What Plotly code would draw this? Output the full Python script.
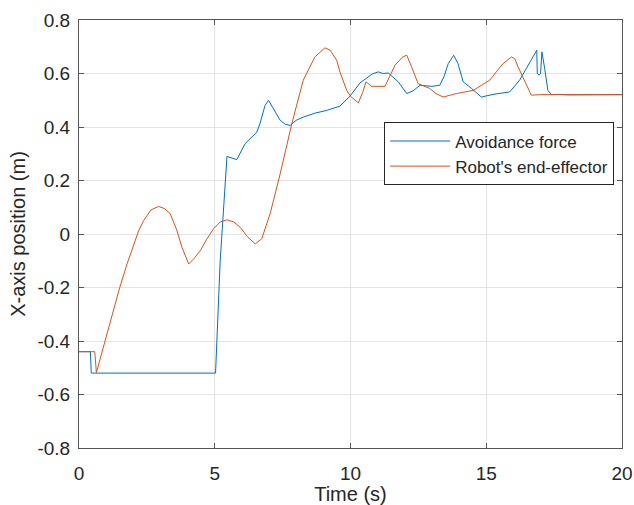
import plotly.graph_objects as go

# Avoidance force (blue)
t_avoid = [0, 0.42, 0.45, 5.03, 5.2, 5.45, 5.6, 5.81, 6.12, 6.3, 6.55, 6.67, 6.85, 6.98, 7.15, 7.41,
           7.6, 7.78, 8.0, 8.26, 8.7, 9.12, 9.61, 9.98, 10.35, 10.6, 10.8, 11.02, 11.2, 11.39, 11.76,
           12.07, 12.3, 12.56, 13.0, 13.29, 13.45, 13.6, 13.8, 13.96, 14.15, 14.46, 14.82, 15.25,
           15.86, 16.23, 16.66, 16.82, 16.86, 16.88, 16.95, 17.0, 17.05, 17.15, 17.27, 17.4, 17.7,
           18.0, 20]
x_avoid = [-0.44, -0.44, -0.52, -0.52, -0.1, 0.29, 0.285, 0.278, 0.338, 0.355, 0.381, 0.414, 0.48,
           0.5, 0.47, 0.425, 0.41, 0.406, 0.425, 0.437, 0.452, 0.462, 0.478, 0.515, 0.565, 0.585,
           0.598, 0.606, 0.6, 0.602, 0.569, 0.525, 0.535, 0.556, 0.552, 0.556, 0.59, 0.637, 0.668,
           0.637, 0.569, 0.544, 0.512, 0.522, 0.531, 0.575, 0.65, 0.675, 0.687, 0.6, 0.594, 0.6,
           0.681, 0.62, 0.537, 0.521, 0.522, 0.52, 0.521]

# Robot's end-effector (orange)
t_robot = [0, 0.58, 0.64, 0.9, 1.16, 1.5, 1.77, 1.96, 2.2, 2.38, 2.65, 2.93, 3.15, 3.36, 3.6, 3.79,
           4.04, 4.25, 4.47, 4.7, 4.96, 5.2, 5.45, 5.7, 5.94, 6.2, 6.49, 6.73, 7.04, 7.41, 7.84,
           8.26, 8.69, 9.06, 9.25, 9.49, 9.61, 9.86, 10.0, 10.29, 10.45, 10.57, 10.78, 11.27, 11.45,
           11.64, 11.9, 12.07, 12.25, 12.49, 12.92, 13.15, 13.41, 13.9, 14.52, 15.13, 15.4, 15.62,
           15.93, 16.05, 16.17, 16.48, 16.66, 17.0, 20]
x_robot = [-0.44, -0.44, -0.518, -0.42, -0.324, -0.2, -0.112, -0.055, 0.013, 0.05, 0.09, 0.103,
           0.095, 0.076, 0.015, -0.049, -0.112, -0.09, -0.062, -0.02, 0.02, 0.045, 0.053, 0.045,
           0.025, -0.01, -0.037, -0.018, 0.076, 0.225, 0.413, 0.575, 0.662, 0.696, 0.687, 0.65,
           0.606, 0.537, 0.515, 0.49, 0.53, 0.569, 0.552, 0.552, 0.59, 0.631, 0.66, 0.669, 0.625,
           0.562, 0.544, 0.525, 0.512, 0.525, 0.537, 0.575, 0.61, 0.637, 0.662, 0.655, 0.625,
           0.556, 0.519, 0.521, 0.521]

x_ticks = [0, 5, 10, 15, 20]
x_ticklabels = ["0", "5", "10", "15", "20"]
y_ticks = [0.8, 0.6, 0.4, 0.2, 0, -0.2, -0.4, -0.6, -0.8]
y_ticklabels = ["0.8", "0.6", "0.4", "0.2", "0", "-0.2", "-0.4", "-0.6", "-0.8"]

fig = go.Figure()
fig.add_trace(go.Scatter(x=t_avoid, y=x_avoid, mode="lines", name="Avoidance force",
                         line=dict(color="#0072BD", width=1)))
fig.add_trace(go.Scatter(x=t_robot, y=x_robot, mode="lines", name="Robot's end-effector",
                         line=dict(color="#D95319", width=1)))

axis_common = dict(showline=True, linecolor="#555555", linewidth=1, mirror="ticks",
                   ticks="inside", ticklen=5, tickcolor="#555555", automargin=False,
                   showgrid=True, gridcolor="#e3e3e3", gridwidth=1, zeroline=False,
                   tickfont=dict(size=19, color="#262626"))

fig.update_layout(
    width=634, height=505,
    margin=dict(l=78.5, r=11.5, t=20, b=57),
    paper_bgcolor="white", plot_bgcolor="white",
    font=dict(family="Liberation Sans, Arial, sans-serif", color="#262626"),
    xaxis=dict(range=[0, 20], tickvals=x_ticks, ticktext=x_ticklabels, ticklabelstandoff=8,
               title=dict(text="Time (s)", font=dict(size=20), standoff=2), **axis_common),
    yaxis=dict(range=[-0.8, 0.8], tickvals=y_ticks, ticktext=y_ticklabels, ticklabelstandoff=4,
               title=dict(text="X-axis position (m)", font=dict(size=20), standoff=6),
               **axis_common),
    legend=dict(x=0.562, y=0.687, xanchor="left", yanchor="middle",
                bgcolor="white", bordercolor="#262626", borderwidth=1,
                font=dict(size=17, color="#262626"), itemwidth=60,
                tracegroupgap=0),
    showlegend=True,
)

fig.write_html("out.html")
